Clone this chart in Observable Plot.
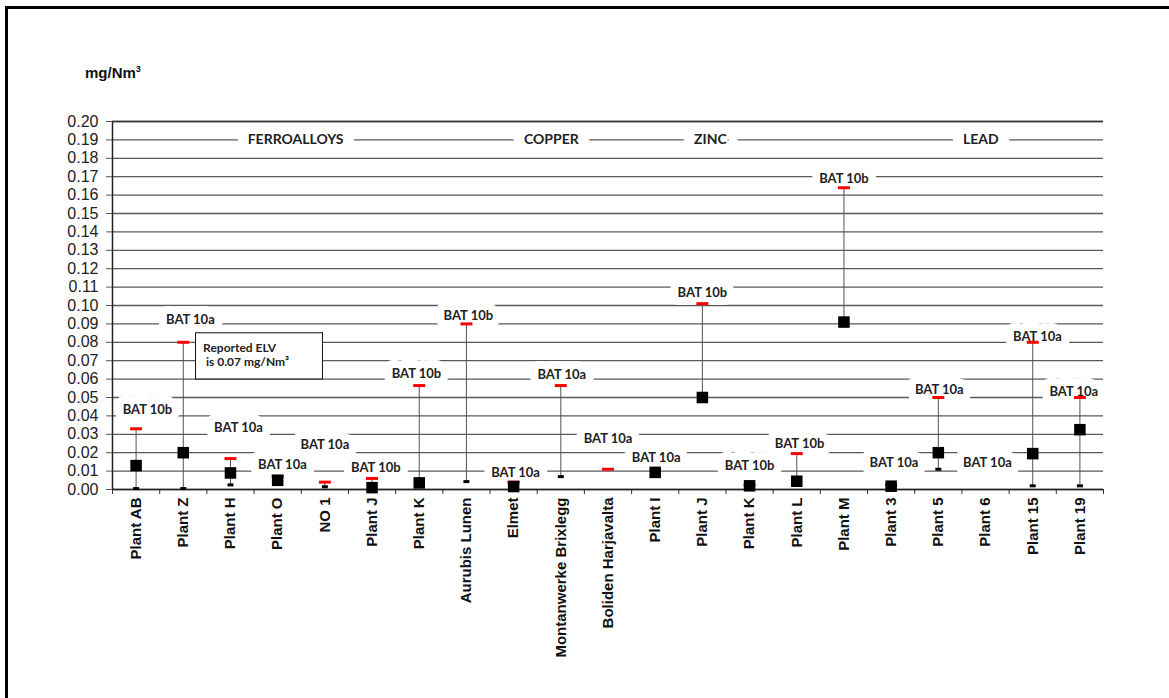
<!DOCTYPE html>
<html>
<head>
<meta charset="utf-8">
<script src="https://cdn.jsdelivr.net/npm/d3@7"></script>
<script src="https://cdn.jsdelivr.net/npm/@observablehq/plot@0.6"></script>
<style>
  html, body { margin: 0; padding: 0; background: #fff; overflow: hidden; }
  #wrap { position: relative; width: 1169px; height: 698px; }
  #chart { position: absolute; left: 0; top: 0; }
  #title { position: absolute; left: 85px; top: 64px; font: bold 15px "Liberation Sans", Arial, sans-serif; color: #111; }
  #title sup { font-size: 9px; }
  #frame { position: absolute; left: 5px; top: 6px; width: 1200px; height: 760px; border-left: 3px solid #000; border-top: 3px solid #000; pointer-events: none; }
</style>
</head>
<body>
<div id="wrap">
  <div id="chart"></div>
  <div id="title">mg/Nm<sup>3</sup></div>
  <div id="frame"></div>
</div>
<script>
// ---- data ----
const plants = ["Plant AB","Plant Z","Plant H","Plant O","NO 1","Plant J","Plant K","Aurubis Lunen","Elmet","Montanwerke Brixlegg","Boliden Harjavalta","Plant I","Plant J","Plant K","Plant L","Plant M","Plant 3","Plant 5","Plant 6","Plant 15","Plant 19"];
const average = [0.013, 0.020, 0.009, 0.005, null, 0.001, 0.0036, null, 0.0016, null, null, 0.0093, 0.050, 0.002, 0.0045, 0.091, 0.0018, 0.020, null, 0.0195, 0.0325];
const maximum = [0.033, 0.080, 0.0168, 0.0072, 0.004, 0.006, 0.0565, 0.090, 0.004, 0.0565, 0.011, null, 0.101, 0.0025, 0.0195, 0.164, 0.0025, 0.050, null, 0.080, 0.050];
const minimum = [0.0005, 0.0005, 0.0025, null, 0.0015, null, null, 0.0043, null, 0.007, null, null, null, null, null, null, null, 0.011, null, 0.002, 0.002];
const batLabels = ["BAT 10b","BAT 10a","BAT 10a","BAT 10a","BAT 10a","BAT 10b","BAT 10b","BAT 10b","BAT 10a","BAT 10a","BAT 10a","BAT 10a","BAT 10b","BAT 10b","BAT 10b","BAT 10b","BAT 10a","BAT 10a","BAT 10a","BAT 10a","BAT 10a"];
const labelValue = [0.0435, 0.0924, 0.0337, 0.0136, 0.0245, 0.012, 0.063, 0.0946, 0.0092, 0.0625, 0.0277, 0.0174, 0.107, 0.013, 0.025, 0.169, 0.0147, 0.0543, 0.0147, 0.083, 0.053];
const labelShift = [0.24, 0.15, 0.17, 0.1, 0, 0.08, -0.06, 0.04, 0.04, 0.02, 0, 0.02, 0, 0, 0.06, 0, 0.06, 0.02, 0.04, 0.1, -0.13];
const sectors = ["FERROALLOYS", "COPPER", "ZINC", "LEAD"];
const sectorPos = [3.38, 8.8, 12.17, 17.9];
const sectorValue = [0.19, 0.19, 0.19, 0.19];
const yTicks = d3.range(0, 21).map(i => i / 100);
const noteText = "Reported ELV\n is 0.07 mg/Nm³";
const noteBox = {x1: 1.27, x2: 3.96, y1: 0.0598, y2: 0.0849, tx: 1.42, ty: 0.0734};

// ---- derived tables ----
const rows = plants.map((p, i) => ({
  i, plant: p, avg: average[i], max: maximum[i], min: minimum[i],
  lo: minimum[i] ?? average[i],
  label: batLabels[i], lv: labelValue[i], lx: i + labelShift[i]
}));
const sectorRows = sectors.map((s, k) => ({s, x: sectorPos[k], y: sectorValue[k]}));

function dash() {
  return { draw(ctx, size) { const w = Math.sqrt(size / Math.PI); ctx.moveTo(-w, 0); ctx.lineTo(w, 0); } };
}

const calibri = "Lato, 'Open Sans', sans-serif";
const arial = "'Liberation Sans', Arial, sans-serif";

const chart = Plot.plot({
  width: 1169,
  height: 698,
  marginLeft: 112,
  marginRight: 66,
  marginTop: 121,
  marginBottom: 209,
  style: { background: "transparent", fontFamily: arial },
  x: { type: "linear", domain: [-0.5, plants.length - 0.5] },
  y: { domain: [0, 0.2] },
  marks: [
    Plot.ruleY(yTicks, { stroke: "#5a5a5a", strokeWidth: 1.3 }),
    Plot.axisY({ ticks: yTicks, tickFormat: d3.format(".2f"), tickSize: 6, tickPadding: 8, fontSize: 16, color: "#222", label: null, stroke: "#5a5a5a" }),
    Plot.axisX({ ticks: d3.range(-0.5, plants.length, 1), tickFormat: () => "", tickSize: 5, label: null, stroke: "#333" }),
    Plot.axisX({ ticks: d3.range(plants.length), tickFormat: i => plants[i], tickSize: 0, tickPadding: 8, tickRotate: -90, fontSize: 15, fontWeight: "bold", color: "#111", label: null }),
    // sector headings and BAT labels with white background halo
    Plot.text(sectorRows, { x: "x", y: "y", text: "s", fontFamily: calibri, fontWeight: "bold", fontSize: 14, fill: "#222", stroke: "white", strokeWidth: 22, strokeLinejoin: "round" }),
    Plot.text(rows, { x: "lx", y: "lv", text: "label", fontFamily: calibri, fontWeight: "bold", fontSize: 13, fill: "#222", stroke: "white", strokeWidth: 16 }),
    // note box
    Plot.rect([noteBox], { x1: "x1", x2: "x2", y1: "y1", y2: "y2", fill: "white", stroke: "#111", strokeWidth: 1 }),
    Plot.text([noteBox], { x: "tx", y: "ty", text: () => noteText, textAnchor: "start", lineHeight: 1.2, fontFamily: calibri, fontWeight: "bold", fontSize: 12, fill: "#222" }),
    // axes lines
    Plot.ruleX([-0.5], { stroke: "#222", strokeWidth: 1.5 }),
    Plot.ruleY([0], { stroke: "#222", strokeWidth: 1.5 }),
    Plot.ruleY([0.2], { stroke: "#333", strokeWidth: 1.5 }),
    // data
    Plot.ruleX(rows.filter(d => d.max != null && d.lo != null), { x: "i", y1: "lo", y2: "max", stroke: "#555", strokeWidth: 1 }),
    Plot.dot(rows.filter(d => d.min != null), { x: "i", y: "min", symbol: dash(), r: 3, fill: "none", stroke: "#000", strokeWidth: 3 }),
    Plot.dot(rows.filter(d => d.max != null), { x: "i", y: "max", symbol: dash(), r: 6, fill: "none", stroke: "#ff0000", strokeWidth: 3 }),
    Plot.dot(rows.filter(d => d.avg != null), { x: "i", y: "avg", symbol: "square", r: 6.5, fill: "#000", stroke: "none" })
  ]
});
document.getElementById("chart").appendChild(chart);
</script>
</body>
</html>
